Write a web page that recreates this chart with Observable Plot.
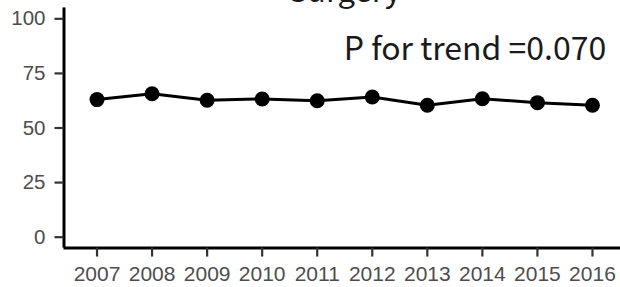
<!DOCTYPE html>
<html>
<head>
<meta charset="utf-8">
<script src="https://cdn.jsdelivr.net/npm/d3@7"></script>
<script src="https://cdn.jsdelivr.net/npm/@observablehq/plot@0.6"></script>
<style>
  html, body { margin: 0; padding: 0; background: #fff; overflow: hidden; }
  #chart svg { display: block; }
</style>
</head>
<body>
<div id="chart"></div>
<script>
const years = [2007, 2008, 2009, 2010, 2011, 2012, 2013, 2014, 2015, 2016];
const values = [63.0, 65.7, 62.7, 63.3, 62.5, 64.2, 60.4, 63.4, 61.6, 60.4];
const yTicks = [0, 25, 50, 75, 100];
const title = "Surgery";
const annotation = "P for trend =0.070";

const data = years.map((year, i) => ({year, value: values[i]}));
const labelFont = "Liberation Sans, Arial, sans-serif";

const chart = Plot.plot({
  width: 620,
  height: 287,
  marginLeft: 63.5,
  marginRight: -5,
  marginTop: 7.4,
  marginBottom: 39.4,
  style: {background: "#fff", overflow: "visible"},
  x: {domain: [2006.4, 2016.6], axis: null},
  y: {domain: [-5, 105], axis: null},
  marks: [
    Plot.ruleX([2006.4], {y1: -5, y2: 105, stroke: "#000", strokeWidth: 3}),
    Plot.ruleY([-5], {x1: 2006.4, x2: 2016.6, stroke: "#000", strokeWidth: 3}),
    Plot.axisY({ticks: yTicks, anchor: "left", tickSize: 9, tickPadding: 9.5, stroke: "#333", strokeWidth: 2.2,
      fill: "#4d4d4d", fontSize: 20.5, fontFamily: labelFont, label: null}),
    Plot.ruleX(years, {x: d => d, y1: -5, y2: -9.1, stroke: "#333", strokeWidth: 2.2}),
    Plot.text(years, {x: d => d, y: -5, text: d => String(d), dy: 18, lineAnchor: "top",
      fill: "#4d4d4d", fontSize: 21, fontFamily: labelFont}),
    Plot.line(data, {x: "year", y: "value", stroke: "#000", strokeWidth: 3}),
    Plot.dot(data, {x: "year", y: "value", r: 7.5, fill: "#000", stroke: "none"}),
    Plot.text([annotation], {x: 2016.25, y: 86, text: d => d, textAnchor: "end", lineAnchor: "middle",
      fill: "#1a1a1a", fontSize: 32, fontFamily: "Noto Sans CJK JP", fontWeight: 400}),
    Plot.text([title], {frameAnchor: "top", text: d => d, lineAnchor: "bottom", dy: -6,
      fill: "#1a1a1a", fontSize: 31, fontFamily: "Noto Sans CJK JP", fontWeight: 400})
  ]
});
document.getElementById("chart").append(chart);
</script>
</body>
</html>
